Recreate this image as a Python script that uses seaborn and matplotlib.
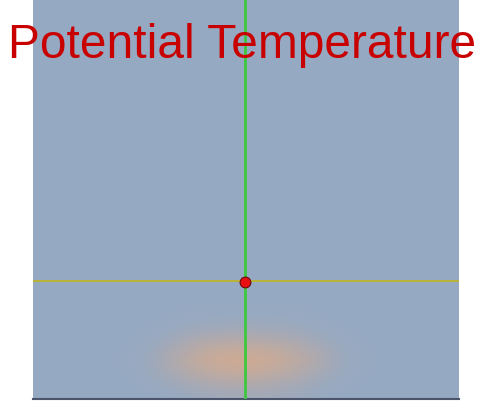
import matplotlib
matplotlib.use("Agg")
import matplotlib.pyplot as plt
import seaborn as sns
import numpy as np
import pandas as pd
from matplotlib.colors import LinearSegmentedColormap

# data: warm anomaly near the ground (km, km, relative strength)
blob_x = [-6.0, -4.8, -3.6, -2.4, -1.2, 0.0, 1.2, 2.4, 3.6, 4.8, 6.0]
blob_y = [2.15, 1.75, 1.35, 0.95, 0.55, 0.15]
blob_values = [
    [0, 0, 0, 0, 0, 0, 0, 0, 0, 0, 0],
    [0, 0, 0, 0.10, 0.15, 0.15, 0.15, 0.10, 0, 0, 0],
    [0, 0, 0.20, 0.45, 0.60, 0.60, 0.55, 0.40, 0.20, 0, 0],
    [0, 0.05, 0.35, 0.70, 0.90, 0.95, 0.85, 0.65, 0.35, 0.05, 0],
    [0, 0, 0.20, 0.40, 0.55, 0.60, 0.50, 0.35, 0.15, 0, 0],
    [0, 0, 0, 0.10, 0.15, 0.20, 0.15, 0.10, 0, 0, 0],
]

# cross-hair and probe point
cross_x = -0.05
cross_y = 2.95
probe = pd.DataFrame({"x": [-0.05], "y": [2.92]})

x_range = [-10, 10]
y_range = [0, 10]

bg = "#96a9c2"
sns.set_theme(style="white", rc={"axes.facecolor": bg})
plt.rcParams['font.family'] = ['Liberation Sans', 'DejaVu Sans']

fig = plt.figure(figsize=(4.81, 4.05), dpi=100)
ax = fig.add_axes([33 / 481, 6 / 405, 426 / 481, 399 / 405])

cmap = LinearSegmentedColormap.from_list("warm", [bg, "#d8ab8c"])
dx = blob_x[1] - blob_x[0]
dy = blob_y[0] - blob_y[1]
ax.imshow(np.array(blob_values), cmap=cmap, vmin=0, vmax=1,
          interpolation="bicubic", aspect="auto",
          extent=[blob_x[0] - dx / 2, blob_x[-1] + dx / 2,
                  blob_y[-1] - dy / 2, blob_y[0] + dy / 2], zorder=1)

ax.axhline(cross_y, color="#bfb42c", lw=1.3, zorder=2)
ax.axvline(cross_x, color="#3dc93d", lw=2, zorder=3)
sns.scatterplot(data=probe, x="x", y="y", ax=ax, s=60, color="#e81010",
                edgecolor="#6a0808", linewidth=0.8, zorder=4)

ax.set_xlim(x_range)
ax.set_ylim(y_range)
ax.set_xticks([])
ax.set_yticks([])
ax.set_xlabel("")
ax.set_ylabel("")
for s in ["top", "left", "right"]:
    ax.spines[s].set_visible(False)
ax.spines["bottom"].set_color("#4c546c")
ax.spines["bottom"].set_linewidth(1.5)

fig.text(242 / 481, 1 - 58 / 405, "Potential Temperature", color="#c80000",
         fontsize=34.5, ha="center", va="baseline")

fig.savefig("out.png", dpi=100)
